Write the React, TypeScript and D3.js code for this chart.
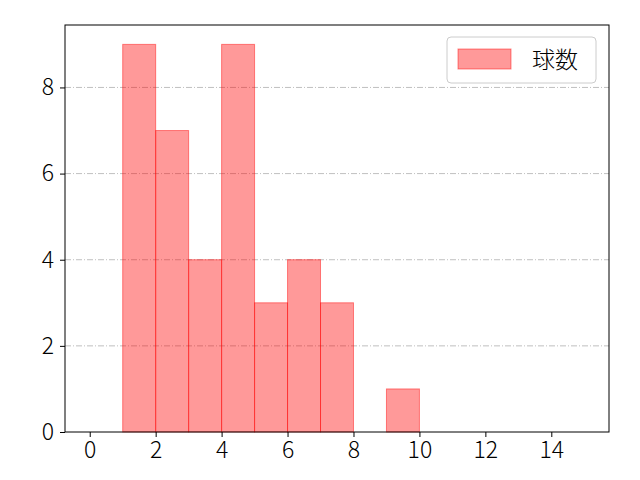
import { useEffect, useRef } from 'react';
import * as d3 from 'd3';

const binStarts = [0, 1, 2, 3, 4, 5, 6, 7, 8, 9, 10, 11, 12, 13, 14];
const counts = [0, 9, 7, 4, 9, 3, 4, 3, 0, 1, 0, 0, 0, 0, 0];
const xTicks = [0, 2, 4, 6, 8, 10, 12, 14];
const yTicks = [0, 2, 4, 6, 8];
const seriesName = '球数';

const FONT = '"Noto Sans CJK JP", "Noto Sans", sans-serif';

export default function App() {
  const svgRef = useRef<SVGSVGElement>(null);

  useEffect(() => {
    if (!svgRef.current) return;
    const svg = d3.select(svgRef.current);
    svg.selectAll('*').remove();

    const width = 640;
    const height = 480;
    const margin = { top: 25, right: 31, bottom: 48, left: 65 };
    const innerWidth = width - margin.left - margin.right;
    const innerHeight = height - margin.top - margin.bottom;

    const x = d3.scaleLinear().domain([-0.75, 15.75]).range([0, innerWidth]);
    const yMax = (d3.max(counts) as number) * 1.05;
    const y = d3.scaleLinear().domain([0, yMax]).range([innerHeight, 0]);

    const g = svg.append('g')
      .attr('transform', `translate(${margin.left},${margin.top})`);

    // horizontal grid
    g.append('g')
      .selectAll('line')
      .data(yTicks.filter(t => t > 0))
      .join('line')
      .attr('x1', 0)
      .attr('x2', innerWidth)
      .attr('y1', d => y(d))
      .attr('y2', d => y(d))
      .attr('stroke', '#b0b0b0')
      .attr('stroke-width', 0.8)
      .attr('stroke-dasharray', '6,2,1,2');

    // bars
    g.append('g')
      .selectAll('rect')
      .data(binStarts.map((s, i) => ({ s, c: counts[i] })).filter(d => d.c > 0))
      .join('rect')
      .attr('x', d => x(d.s))
      .attr('width', d => x(d.s + 1) - x(d.s))
      .attr('y', d => y(d.c))
      .attr('height', d => y(0) - y(d.c))
      .attr('fill', 'rgba(255,0,0,0.4)')
      .attr('stroke', 'rgba(255,0,0,0.45)')
      .attr('stroke-width', 1);

    // frame
    g.append('rect')
      .attr('width', innerWidth)
      .attr('height', innerHeight)
      .attr('fill', 'none')
      .attr('stroke', 'black')
      .attr('stroke-width', 1);

    const xAxis = g.append('g')
      .attr('transform', `translate(0,${innerHeight})`)
      .call(d3.axisBottom(x).tickValues(xTicks).tickSize(5).tickPadding(5).tickFormat(d3.format('d')));
    const yAxis = g.append('g')
      .call(d3.axisLeft(y).tickValues(yTicks).tickSize(5).tickPadding(6).tickFormat(d3.format('d')));

    [xAxis, yAxis].forEach(a => {
      a.select('.domain').remove();
      a.selectAll('line').attr('stroke', 'black').attr('stroke-width', 1);
      a.selectAll('text')
        .attr('fill', 'black')
        .style('font-family', FONT)
        .style('font-weight', 300)
        .style('font-size', '23px');
    });

    // legend
    const lg = svg.append('g').attr('transform', 'translate(447,37)');
    lg.append('rect')
      .attr('width', 149)
      .attr('height', 46)
      .attr('rx', 4)
      .attr('fill', 'white')
      .attr('fill-opacity', 0.8)
      .attr('stroke', '#cccccc')
      .attr('stroke-width', 1);
    lg.append('rect')
      .attr('x', 11)
      .attr('y', 12)
      .attr('width', 53)
      .attr('height', 20)
      .attr('fill', 'rgba(255,0,0,0.4)')
      .attr('stroke', 'rgba(255,0,0,0.45)')
      .attr('stroke-width', 1);
    lg.append('text')
      .attr('x', 85)
      .attr('y', 23)
      .attr('dy', '0.35em')
      .style('font-family', FONT)
      .style('font-weight', 300)
      .style('font-size', '23px')
      .attr('fill', 'black')
      .text(seriesName);
  }, []);

  return (
    <svg
      ref={svgRef}
      width={640}
      height={480}
      style={{ display: 'block', position: 'absolute', left: 0, top: 0, background: 'white' }}
    />
  );
}
